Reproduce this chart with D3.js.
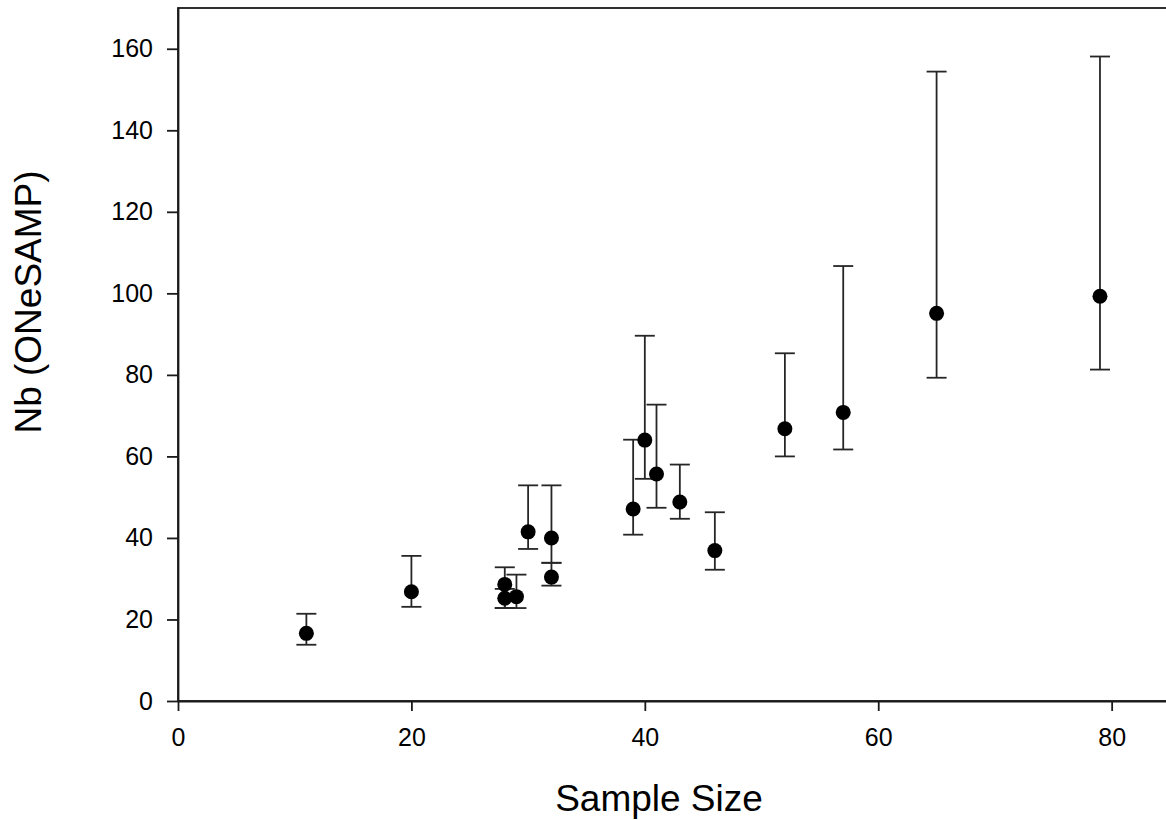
<!DOCTYPE html>
<html>
<head>
<meta charset="utf-8">
<script src="https://cdn.jsdelivr.net/npm/d3@7"></script>
<style>
  body { margin: 0; background: #fff; }
  svg text { font-family: Arial, "Liberation Sans", sans-serif; fill: #000; }
</style>
</head>
<body>
<svg width="1166" height="820"></svg>
<script>
// sample size (x) and Nb estimate with its lower / upper limits
var sampleSize = [11, 20, 28, 28, 29, 30, 32, 32, 39, 40, 41, 43, 46, 52, 57, 65, 79];
var nb         = [16.6, 26.8, 28.6, 25.2, 25.6, 41.5, 40.0, 30.4, 47.1, 64.0, 55.7, 48.8, 36.9, 66.8, 70.8, 95.1, 99.3];
var nbLower    = [13.8, 23.1, 22.8, 22.8, 22.8, 37.3, 33.9, 28.3, 40.8, 54.5, 47.4, 44.7, 32.2, 60.0, 61.7, 79.3, 81.3];
var nbUpper    = [21.4, 35.6, 32.8, 27.5, 31.0, 52.9, 52.9, 33.9, 64.1, 89.6, 72.7, 58.0, 46.3, 85.3, 106.7, 154.4, 158.1];
var xTicks = [0, 20, 40, 60, 80];
var yTicks = [0, 20, 40, 60, 80, 100, 120, 140, 160];

var data = sampleSize.map(function(d, i) {
    return {x: d, y: nb[i], lo: nbLower[i], hi: nbUpper[i]};
});

var svg = d3.select("svg"),
    plotLeft = 178, plotTop = 8, plotRight = 1170, plotBottom = 701;

var x = d3.scaleLinear().domain([0, 85]).range([plotLeft, plotRight]);
var y = d3.scaleLinear().domain([0, 170]).range([plotBottom, plotTop]);

// frame
svg.append("rect")
    .attr("x", plotLeft).attr("y", plotTop)
    .attr("width", plotRight - plotLeft).attr("height", plotBottom - plotTop)
    .attr("fill", "none").attr("stroke", "#1a1a1a").attr("stroke-width", 1.8);

var xAxis = svg.append("g")
    .attr("transform", "translate(0," + plotBottom + ")")
    .call(d3.axisBottom(x).tickValues(xTicks).tickSize(10).tickSizeOuter(0).tickPadding(17));
var yAxis = svg.append("g")
    .attr("transform", "translate(" + plotLeft + ",0)")
    .call(d3.axisLeft(y).tickValues(yTicks).tickSize(11).tickSizeOuter(0).tickPadding(14));

[xAxis, yAxis].forEach(function(a) {
    a.attr("font-size", 25);
    a.select(".domain").attr("stroke", "#1a1a1a").attr("stroke-width", 1.8);
    a.selectAll(".tick line").attr("stroke", "#1a1a1a").attr("stroke-width", 1.8);
    a.selectAll(".tick text").style("font-size", "25px").attr("fill", "#000");
});

// error bars
var cap = 10;
var bars = svg.append("g").attr("stroke", "#262626").attr("stroke-width", 1.8);
bars.selectAll(".stem")
    .data(data).enter().append("line")
    .attr("x1", d => x(d.x)).attr("x2", d => x(d.x))
    .attr("y1", d => y(d.lo)).attr("y2", d => y(d.hi));
bars.selectAll(".capHi")
    .data(data).enter().append("line")
    .attr("x1", d => x(d.x) - cap).attr("x2", d => x(d.x) + cap)
    .attr("y1", d => y(d.hi)).attr("y2", d => y(d.hi));
bars.selectAll(".capLo")
    .data(data).enter().append("line")
    .attr("x1", d => x(d.x) - cap).attr("x2", d => x(d.x) + cap)
    .attr("y1", d => y(d.lo)).attr("y2", d => y(d.lo));

// points
svg.append("g").selectAll("circle")
    .data(data).enter().append("circle")
    .attr("cx", d => x(d.x)).attr("cy", d => y(d.y))
    .attr("r", 7.5).attr("fill", "#000");

// axis titles
svg.append("text")
    .attr("x", 659).attr("y", 811)
    .attr("text-anchor", "middle")
    .style("font-size", "37px")
    .text("Sample Size");
svg.append("text")
    .attr("transform", "translate(41,302) rotate(-90)")
    .attr("text-anchor", "middle")
    .style("font-size", "37px")
    .text("Nb (ONeSAMP)");
</script>
</body>
</html>
